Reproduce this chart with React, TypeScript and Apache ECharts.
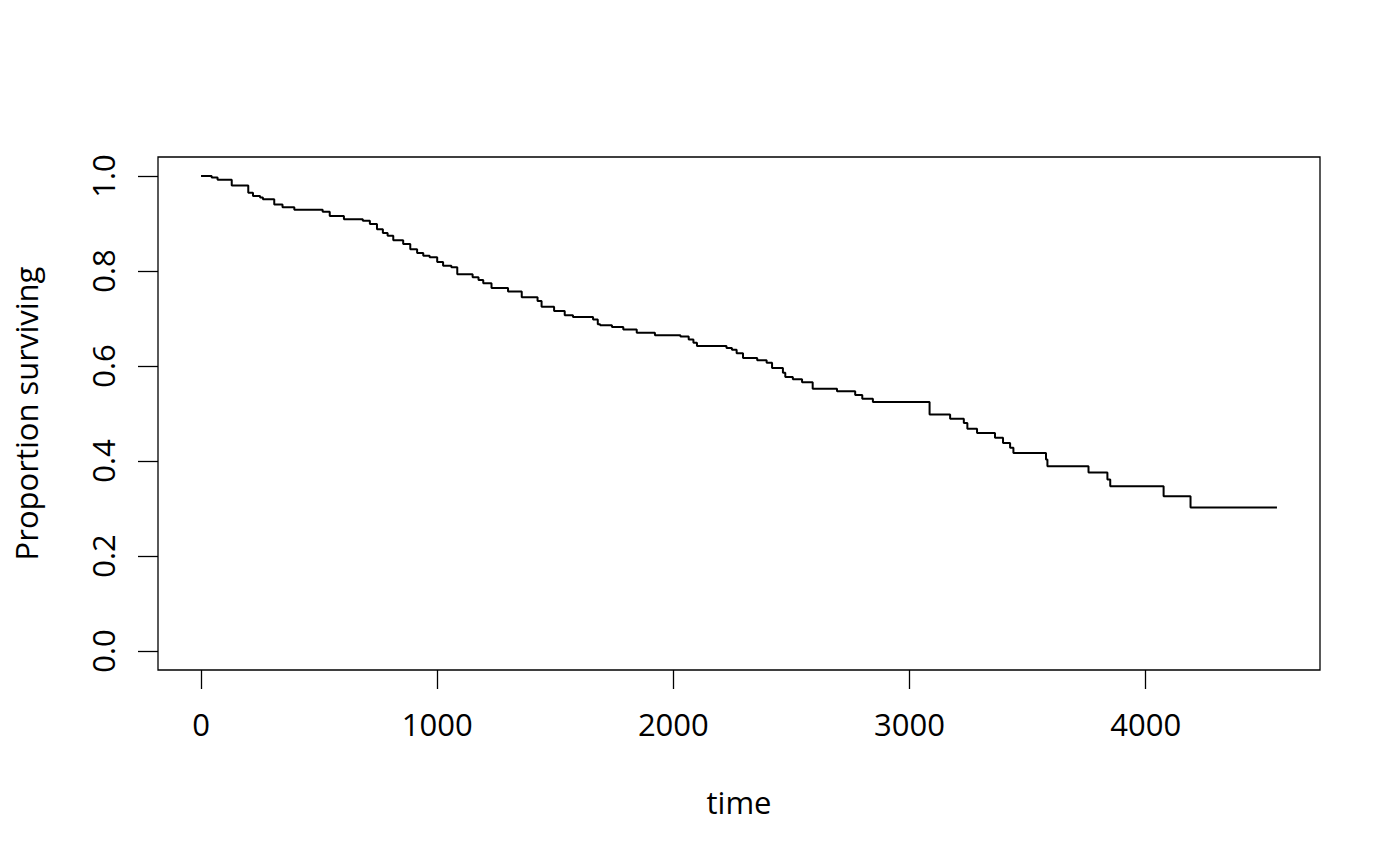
import React, { useRef, useEffect } from 'react';
import * as echarts from 'echarts';

// Kaplan-Meier step curve (time, proportion surviving)
const times = [
  0, 45, 70, 130, 200, 220, 250, 262, 310, 345, 395, 515, 545, 605, 685, 715,
  745, 770, 790, 814, 856, 886, 915, 941, 968, 1000, 1025, 1060, 1085, 1150,
  1175, 1195, 1230, 1300, 1358, 1425, 1442, 1495, 1540, 1575, 1660, 1680, 1690,
  1740, 1788, 1845, 1922, 2030, 2065, 2085, 2100, 2225, 2248, 2268, 2295, 2355,
  2395, 2418, 2464, 2474, 2506, 2545, 2590, 2693, 2770, 2800, 2845, 3085, 3172,
  3230, 3245, 3286, 3362, 3396, 3426, 3440, 3578, 3584, 3758, 3838, 3850, 4076,
  4190, 4556,
];
const surviving = [
  1.0, 0.997, 0.992, 0.98, 0.965, 0.958, 0.955, 0.951, 0.94, 0.934, 0.929, 0.925,
  0.916, 0.909, 0.906, 0.899, 0.888, 0.88, 0.874, 0.865, 0.857, 0.846, 0.838,
  0.832, 0.829, 0.819, 0.811, 0.808, 0.793, 0.787, 0.781, 0.774, 0.764, 0.757,
  0.745, 0.737, 0.725, 0.716, 0.707, 0.703, 0.698, 0.688, 0.686, 0.682, 0.677,
  0.67, 0.665, 0.662, 0.656, 0.649, 0.642, 0.638, 0.634, 0.627, 0.617, 0.612,
  0.607, 0.596, 0.586, 0.577, 0.572, 0.566, 0.552, 0.547, 0.539, 0.531, 0.524,
  0.498, 0.489, 0.48, 0.468, 0.459, 0.449, 0.438, 0.428, 0.417, 0.403, 0.389,
  0.376, 0.361, 0.347, 0.326, 0.302, 0.302,
];

const xTicks = [0, 1000, 2000, 3000, 4000];
const yTicks = [0, 0.2, 0.4, 0.6, 0.8, 1.0];

const FONT = '"Open Sans", "Noto Sans", sans-serif';
const FS = 31;

const App: React.FC = () => {
  const chartRef = useRef<HTMLDivElement>(null);

  useEffect(() => {
    if (!chartRef.current) return;
    document.body.style.margin = '0';
    const chart = echarts.init(chartRef.current, null, { renderer: 'svg' });

    const xMax = times[times.length - 1];

    const option: echarts.EChartsOption = {
      animation: false,
      backgroundColor: '#ffffff',
      grid: {
        left: 158,
        top: 157,
        width: 1162,
        height: 513,
        show: true,
        borderColor: '#000',
        borderWidth: 1.3,
        containLabel: false,
      },
      xAxis: {
        type: 'value',
        min: -0.04 * xMax,
        max: 1.04 * xMax,
        name: 'time',
        nameLocation: 'middle',
        nameGap: 116,
        nameTextStyle: { fontFamily: FONT, fontSize: FS, color: '#000' },
        axisLine: { show: false, onZero: false },
        splitLine: { show: false },
        axisTick: {
          show: true,
          length: 19,
          customValues: xTicks,
          lineStyle: { color: '#000', width: 1.3 },
        },
        axisLabel: {
          customValues: xTicks,
          margin: 38,
          fontFamily: FONT,
          fontSize: FS,
          color: '#000',
          formatter: (v: number) => String(v),
        },
      },
      yAxis: {
        type: 'value',
        min: -0.04,
        max: 1.04,
        name: 'Proportion surviving',
        nameLocation: 'middle',
        nameGap: 117,
        nameTextStyle: { fontFamily: FONT, fontSize: FS, color: '#000' },
        axisLine: { show: false, onZero: false },
        splitLine: { show: false },
        axisTick: {
          show: true,
          length: 20,
          customValues: yTicks,
          lineStyle: { color: '#000', width: 1.3 },
        },
        axisLabel: {
          customValues: yTicks,
          rotate: 90,
          margin: 40,
          fontFamily: FONT,
          fontSize: FS,
          color: '#000',
          formatter: (v: number) => v.toFixed(1),
        },
      },
      series: [
        {
          type: 'line',
          step: 'end',
          showSymbol: false,
          data: times.map((t, i) => [t, surviving[i]]),
          lineStyle: { color: '#000', width: 2 },
        },
      ],
    };

    chart.setOption(option);
    return () => {
      chart.dispose();
    };
  }, []);

  return <div ref={chartRef} style={{ width: 1400, height: 866 }} />;
};

export default App;
